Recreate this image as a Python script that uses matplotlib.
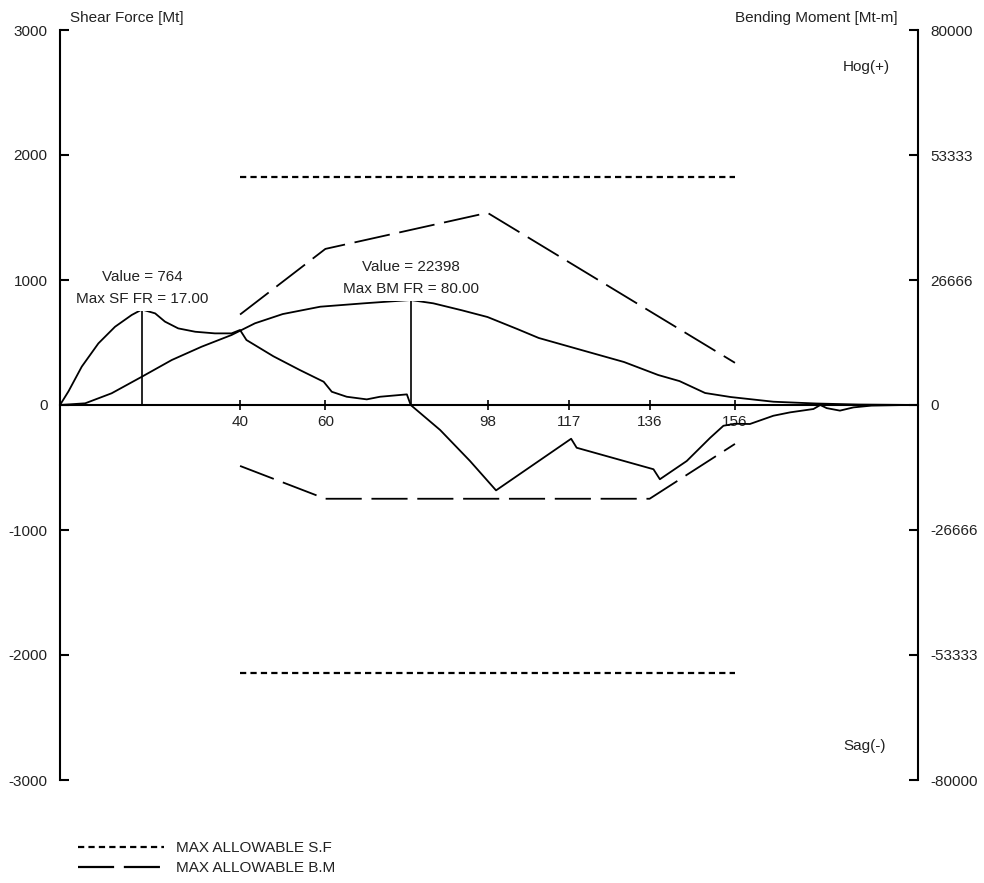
import matplotlib
matplotlib.use("Agg")
import matplotlib.pyplot as plt
from matplotlib.lines import Line2D

plt.rcParams['font.family'] = ['Liberation Sans', 'DejaVu Sans']
plt.rcParams['lines.scale_dashes'] = False

# ---------------- data ----------------
# Shear force curve (left axis, Mt) vs frame number
sf_frames = [-2.2, -0.2, 2.9, 6.8, 10.7, 14.6, 17.0, 20.1, 22.4, 25.5, 29.5, 34.1, 38.0, 40.0,
             41.5, 47.8, 54.0, 59.6, 61.5, 65.0, 69.7, 72.8, 79.1, 80.0, 86.9, 93.9, 100.0,
             117.6, 118.9, 136.9, 138.4, 144.7, 150.2, 153.3, 156.0, 159.5, 165.0, 168.9,
             174.4, 176.0, 177.5, 180.6, 183.8, 188.0, 196.0, 198.9]
sf_values = [0, 110, 307, 493, 626, 720, 764, 733, 667, 613, 586, 573, 573, 600,
             520, 390, 280, 186, 106, 66, 45, 66, 85, 0, -200, -448, -683,
             -270, -342, -514, -594, -448, -262, -166, -150, -152, -86, -59,
             -32, 0, -25, -45, -19, -5, 0, 0]

# Bending moment curve (right axis, Mt-m) vs frame number
bm_frames = [-2.2, 3.7, 9.9, 17.0, 24.0, 31.0, 38.0, 43.5, 50.0, 58.8, 69.0, 80.0, 85.3,
             92.0, 98.0, 105.0, 110.0, 120.0, 130.0, 138.0, 143.0, 149.0, 155.0, 165.0,
             175.0, 185.0, 198.9]
bm_values = [0, 360, 2500, 6040, 9600, 12440, 14930, 17430, 19400, 20970, 21690, 22398, 21690,
             20200, 18770, 16200, 14300, 11730, 9170, 6400, 5100, 2560, 1700, 700,
             320, 100, 0]

# Max allowable shear force (left axis)
sf_allow_frames = [40, 156]
sf_allow_pos = [1825, 1825]
sf_allow_neg = [-2140, -2140]

# Max allowable bending moment (right axis)
bm_hog_frames = [40, 60, 98, 156]
bm_hog_values = [19300, 33300, 41000, 9000]
bm_sag_frames = [40, 60, 136, 156]
bm_sag_values = [-13000, -20000, -20000, -8300]

# maxima annotated
sf_max_frame, sf_max_value = 17.0, 764
bm_max_frame, bm_max_value = 80.0, 22398

x_ticks = [40, 60, 98, 117, 136, 156]
sf_ticks = [3000, 2000, 1000, 0, -1000, -2000, -3000]
bm_ticks = [80000, 53333, 26666, 0, -26666, -53333, -80000]

# ---------------- figure ----------------
W, H = 984, 883
fig = plt.figure(figsize=(W / 100, H / 100), dpi=100)
fig.patch.set_facecolor('white')
L, R, T, B = 60, 918, 30, 780
ax = fig.add_axes([L / W, 1 - B / H, (R - L) / W, (B - T) / H])
ax2 = ax.twinx()

txt_col = '#222222'
fs = 11

ax.set_xlim(-2.2, 198.9)
ax.set_ylim(-3000, 3000)
ax2.set_ylim(-80000, 80000)

for a in (ax, ax2):
    a.patch.set_visible(False)
    a.spines['top'].set_visible(False)
ax.spines['right'].set_visible(False)
ax2.spines['left'].set_visible(False)
ax2.spines['bottom'].set_visible(False)
ax.spines['bottom'].set_position(('data', 0))
ax.spines['bottom'].set_linewidth(1.5)
ax.spines['left'].set_linewidth(1.5)
ax2.spines['right'].set_linewidth(1.5)

ax.set_xticks(x_ticks)
ax.set_xticklabels([str(v) for v in x_ticks])
ax.tick_params(axis='x', direction='inout', length=7, width=1.2, pad=3.5,
               labelsize=fs, labelcolor=txt_col)
ax.set_yticks(sf_ticks)
ax.set_yticklabels([str(v) for v in sf_ticks])
ax.tick_params(axis='y', direction='in', length=6.5, width=1.5, pad=9,
               labelsize=fs, labelcolor=txt_col)
ax2.set_yticks(bm_ticks)
ax2.set_yticklabels([str(v) for v in bm_ticks])
ax2.tick_params(axis='y', direction='in', length=6.5, width=1.5, pad=9,
                labelsize=fs, labelcolor=txt_col)

lw = 1.3
dot_dash = (0, (4.5, 3))
long_dash = (0, (26, 7))

# allowable SF
ax.plot(sf_allow_frames, sf_allow_pos, color='black', lw=1.6, ls=dot_dash)
ax.plot(sf_allow_frames, sf_allow_neg, color='black', lw=1.6, ls=dot_dash)
# SF curve
ax.plot(sf_frames, sf_values, color='black', lw=lw)

# BM curve and allowable BM
ax2.plot(bm_frames, bm_values, color='black', lw=lw)
ax2.plot(bm_hog_frames, bm_hog_values, color='black', lw=lw, ls=long_dash)
ax2.plot(bm_sag_frames, bm_sag_values, color='black', lw=lw, ls=long_dash)

# vertical markers at maxima
ax.plot([sf_max_frame, sf_max_frame], [0, sf_max_value], color='black', lw=1.2)
ax2.plot([bm_max_frame, bm_max_frame], [0, bm_max_value], color='black', lw=1.2)

# annotations (on ax2 so the white boxes cover lines of both axes)
box = dict(facecolor='white', edgecolor='none', pad=3.5)
afs = 11
ax2.annotate('Max SF FR = %.2f' % sf_max_frame, xy=(sf_max_frame, sf_max_value),
             xycoords=ax.transData, xytext=(0, 4.8), textcoords='offset points',
             ha='center', va='baseline', fontsize=afs, color=txt_col, bbox=box, zorder=5)
ax2.annotate('Value = %d' % sf_max_value, xy=(sf_max_frame, sf_max_value),
             xycoords=ax.transData, xytext=(0, 20.5), textcoords='offset points',
             ha='center', va='baseline', fontsize=afs, color=txt_col, bbox=box, zorder=5)
ax2.annotate('Max BM FR = %.2f' % bm_max_frame, xy=(bm_max_frame, bm_max_value),
             xytext=(0, 5), textcoords='offset points',
             ha='center', va='baseline', fontsize=afs, color=txt_col, bbox=box, zorder=5)
ax2.annotate('Value = %d' % bm_max_value, xy=(bm_max_frame, bm_max_value),
             xytext=(0, 21), textcoords='offset points',
             ha='center', va='baseline', fontsize=afs, color=txt_col, bbox=box, zorder=5)

# axis titles
fig.text(70 / W, 1 - 18 / H, 'Shear Force [Mt]', ha='left', va='center', fontsize=fs, color=txt_col)
fig.text(898 / W, 1 - 18 / H, 'Bending Moment [Mt-m]', ha='right', va='center', fontsize=fs, color=txt_col)
fig.text(890 / W, 1 - 67 / H, 'Hog(+)', ha='right', va='center', fontsize=fs, color=txt_col)
fig.text(886 / W, 1 - 746 / H, 'Sag(-)', ha='right', va='center', fontsize=fs, color=txt_col)

# legend
handles = [Line2D([], [], color='black', lw=1.6, ls=dot_dash),
           Line2D([], [], color='black', lw=1.6, ls=long_dash)]
fig.legend(handles, ['MAX ALLOWABLE S.F', 'MAX ALLOWABLE B.M'],
           loc='upper left', bbox_to_anchor=(78 / W, 1 - 841 / H), frameon=False,
           fontsize=fs, handlelength=5.6, handletextpad=0.8, labelspacing=0.42,
           borderpad=0, borderaxespad=0, labelcolor=txt_col)

fig.savefig('out.png', dpi=100, facecolor='white')
